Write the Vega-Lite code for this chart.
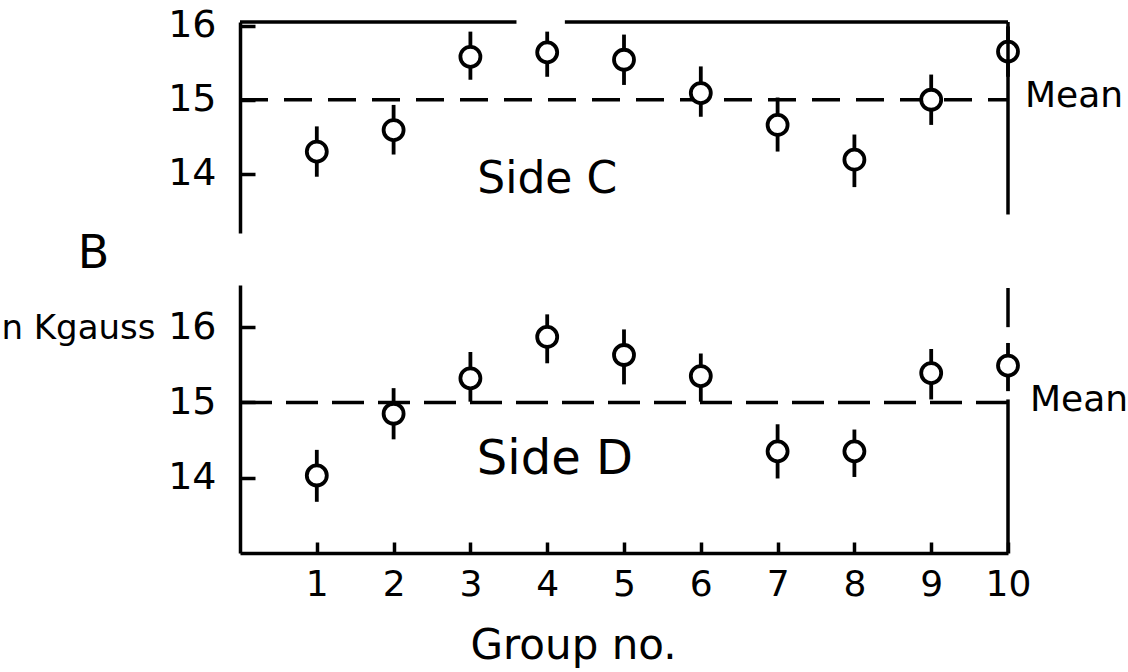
{
  "$schema": "https://vega.github.io/schema/vega-lite/v6.json",
  "autosize": {"type": "none"},
  "bounds": "flush",
  "padding": {"left": 240, "top": 22, "right": 888, "bottom": 650},
  "background": "white",
  "config": {
    "view": {"stroke": null},
    "font": "DejaVu Sans",
    "axis": {
      "domainColor": "black", "domainWidth": 3.5, "tickColor": "black", "tickWidth": 3.5,
      "labelColor": "black", "titleColor": "black", "grid": false, "labelFlush": false,
      "labelFont": "DejaVu Sans", "titleFont": "DejaVu Sans", "titleFontWeight": "normal"
    },
    "text": {"font": "DejaVu Sans", "color": "black"}
  },
  "datasets": {
    "sideC": [
      {"group": 1, "b": 14.30, "lo": 13.96, "hi": 14.64},
      {"group": 2, "b": 14.59, "lo": 14.26, "hi": 14.93},
      {"group": 3, "b": 15.58, "lo": 15.27, "hi": 15.92},
      {"group": 4, "b": 15.64, "lo": 15.31, "hi": 15.92},
      {"group": 5, "b": 15.54, "lo": 15.20, "hi": 15.88},
      {"group": 6, "b": 15.09, "lo": 14.77, "hi": 15.45},
      {"group": 7, "b": 14.66, "lo": 14.30, "hi": 15.03},
      {"group": 8, "b": 14.19, "lo": 13.82, "hi": 14.53},
      {"group": 9, "b": 15.00, "lo": 14.66, "hi": 15.34},
      {"group": 10, "b": 15.65, "lo": 15.31, "hi": 15.99}
    ],
    "sideD": [
      {"group": 1, "b": 14.03, "lo": 13.68, "hi": 14.37},
      {"group": 2, "b": 14.85, "lo": 14.51, "hi": 15.19},
      {"group": 3, "b": 15.32, "lo": 15.01, "hi": 15.67},
      {"group": 4, "b": 15.87, "lo": 15.52, "hi": 16.17},
      {"group": 5, "b": 15.63, "lo": 15.24, "hi": 15.97},
      {"group": 6, "b": 15.35, "lo": 15.01, "hi": 15.65},
      {"group": 7, "b": 14.35, "lo": 13.99, "hi": 14.71},
      {"group": 8, "b": 14.35, "lo": 14.01, "hi": 14.64},
      {"group": 9, "b": 15.39, "lo": 15.04, "hi": 15.71},
      {"group": 10, "b": 15.49, "lo": 15.15, "hi": 15.79}
    ]
  },
  "spacing": 52,
  "resolve": {"scale": {"y": "independent"}, "axis": {"y": "independent"}},
  "vconcat": [
    {
      "width": 768,
      "height": 211,
      "layer": [
        {
          "data": {"values": [{}]},
          "mark": {"type": "rule", "strokeDash": [28, 16], "strokeWidth": 3.5, "color": "black"},
          "encoding": {
            "x": {"datum": 0, "type": "quantitative", "scale": {"domain": [0, 10], "nice": false, "zero": false}, "axis": null},
            "x2": {"datum": 10},
            "y": {"datum": 15, "type": "quantitative",
              "scale": {"domain": [13.2, 16.05], "nice": false, "zero": false},
              "axis": {
                "values": [14, 15, 16], "format": "d", "tickSize": -15, "labelPadding": 39, "labelFontSize": 38,
                "title": "B", "titleAngle": 0, "titleX": -147, "titleY": 231,
                "titleAlign": "center", "titleBaseline": "middle", "titleFontSize": 46
              }
            }
          }
        },
        {
          "data": {"name": "sideC"},
          "mark": {"type": "rule", "strokeWidth": 3.8, "color": "black"},
          "encoding": {
            "x": {"field": "group", "type": "quantitative"},
            "y": {"field": "lo", "type": "quantitative"},
            "y2": {"field": "hi"}
          }
        },
        {
          "data": {"name": "sideC"},
          "mark": {"type": "point", "shape": "circle", "filled": true, "fill": "white", "stroke": "black", "strokeWidth": 3.8, "size": 400, "opacity": 1},
          "encoding": {
            "x": {"field": "group", "type": "quantitative"},
            "y": {"field": "b", "type": "quantitative"}
          }
        },
        {
          "data": {"values": [{}]},
          "mark": {"type": "rule", "strokeWidth": 3.5, "color": "black"},
          "encoding": {"x": {"datum": 0}, "x2": {"datum": 3.6}, "y": {"datum": 16.05}}
        },
        {
          "data": {"values": [{}]},
          "mark": {"type": "rule", "strokeWidth": 3.5, "color": "black"},
          "encoding": {"x": {"datum": 4.23}, "x2": {"datum": 10}, "y": {"datum": 16.05}}
        },
        {
          "data": {"values": [{}]},
          "mark": {"type": "rule", "strokeWidth": 3.5, "color": "black"},
          "encoding": {"x": {"datum": 10}, "y": {"datum": 13.45}, "y2": {"datum": 16.05}}
        },
        {
          "data": {"values": [{}]},
          "mark": {"type": "text", "text": "Side C", "fontSize": 44, "align": "center", "baseline": "alphabetic"},
          "encoding": {"x": {"datum": 4}, "y": {"datum": 13.74}}
        },
        {
          "data": {"values": [{}]},
          "mark": {"type": "text", "text": "Mean", "fontSize": 36, "align": "left", "baseline": "alphabetic", "dx": 17},
          "encoding": {"x": {"datum": 10}, "y": {"datum": 14.9}}
        }
      ]
    },
    {
      "width": 768,
      "height": 268,
      "layer": [
        {
          "data": {"values": [{}]},
          "mark": {"type": "rule", "strokeDash": [32, 14], "strokeWidth": 3.5, "color": "black"},
          "encoding": {
            "x": {"datum": 0, "type": "quantitative",
              "scale": {"domain": [0, 10], "nice": false, "zero": false},
              "axis": {
                "values": [1, 2, 3, 4, 5, 6, 7, 8, 9, 10], "format": "d", "tickSize": -11,
                "labelPadding": 25, "labelFontSize": 36,
                "title": "Group no.", "titleFontSize": 42, "titleX": 333, "titleY": 105,
                "titleAlign": "center", "titleBaseline": "alphabetic"
              }
            },
            "x2": {"datum": 10},
            "y": {"datum": 15, "type": "quantitative",
              "scale": {"domain": [13.0, 16.56], "nice": false, "zero": false},
              "axis": {
                "values": [14, 15, 16], "format": "d", "tickSize": -15, "labelPadding": 39, "labelFontSize": 38,
                "title": "in Kgauss", "titleAngle": 0, "titleX": -85, "titleY": 53,
                "titleAlign": "right", "titleBaseline": "alphabetic", "titleFontSize": 34
              }
            }
          }
        },
        {
          "data": {"name": "sideD"},
          "mark": {"type": "rule", "strokeWidth": 3.8, "color": "black"},
          "encoding": {
            "x": {"field": "group", "type": "quantitative"},
            "y": {"field": "lo", "type": "quantitative"},
            "y2": {"field": "hi"}
          }
        },
        {
          "data": {"name": "sideD"},
          "mark": {"type": "point", "shape": "circle", "filled": true, "fill": "white", "stroke": "black", "strokeWidth": 3.8, "size": 400, "opacity": 1},
          "encoding": {
            "x": {"field": "group", "type": "quantitative"},
            "y": {"field": "b", "type": "quantitative"}
          }
        },
        {
          "data": {"values": [{}]},
          "mark": {"type": "rule", "strokeWidth": 3.5, "color": "black"},
          "encoding": {"x": {"datum": 10}, "y": {"datum": 13.0}, "y2": {"datum": 15.04}}
        },
        {
          "data": {"values": [{}]},
          "mark": {"type": "rule", "strokeWidth": 3.5, "color": "black"},
          "encoding": {"x": {"datum": 10}, "y": {"datum": 16.0}, "y2": {"datum": 16.52}}
        },
        {
          "data": {"values": [{}]},
          "mark": {"type": "text", "text": "Side D", "fontSize": 48, "align": "center", "baseline": "alphabetic"},
          "encoding": {"x": {"datum": 4.1}, "y": {"datum": 14.05}}
        },
        {
          "data": {"values": [{}]},
          "mark": {"type": "text", "text": "Mean", "fontSize": 36, "align": "left", "baseline": "alphabetic", "dx": 22},
          "encoding": {"x": {"datum": 10}, "y": {"datum": 14.88}}
        }
      ]
    }
  ]
}
